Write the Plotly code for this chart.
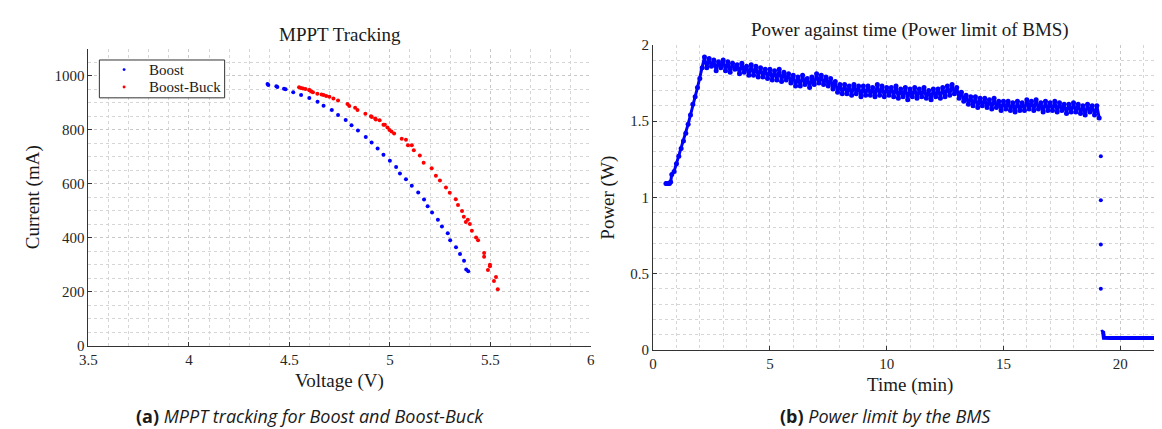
import plotly.graph_objects as go

# ---------------- (a) MPPT tracking ----------------
boost_v = [4.391, 4.435, 4.473, 4.481, 4.519, 4.558, 4.599, 4.640, 4.670, 4.711,
           4.742, 4.780, 4.809, 4.841, 4.880, 4.909, 4.939, 4.968, 5.000, 5.031,
           5.050, 5.080, 5.109, 5.141, 5.170, 5.188, 5.210, 5.239, 5.259, 5.288,
           5.300, 5.329, 5.349, 5.369, 5.380, 5.390, 4.395, 4.440]
boost_i = [969, 961, 952, 950, 939, 929, 918, 904, 889, 873,
           855, 836, 817, 797, 773, 753, 731, 708, 685, 662,
           638, 617, 593, 568, 542, 517, 494, 467, 442, 417,
           391, 365, 340, 315, 283, 276, 966, 958]

buck_v = [4.548, 4.558, 4.568, 4.580, 4.598, 4.601, 4.609, 4.617, 4.639, 4.660,
          4.670, 4.683, 4.699, 4.719, 4.742, 4.789, 4.798, 4.827, 4.839, 4.878,
          4.906, 4.910, 4.927, 4.930, 4.949, 4.968, 4.975, 4.988, 4.998, 5.008,
          5.021, 5.059, 5.080, 5.090, 5.109, 5.119, 5.149, 5.168, 5.208, 5.229,
          5.249, 5.279, 5.298, 5.328, 5.339, 5.359, 5.368, 5.378, 5.388, 5.398,
          5.408, 5.429, 5.439, 5.469, 5.469, 5.498, 5.498, 5.488, 5.528, 5.518,
          5.537]
buck_i = [957, 955, 953, 951, 947, 946, 942, 939, 933, 931,
          929, 925, 922, 916, 908, 895, 888, 882, 873, 859,
          850, 847, 842, 838, 835, 819, 819, 808, 799, 794,
          786, 767, 763, 743, 743, 724, 705, 678, 658, 630,
          612, 586, 567, 543, 522, 499, 478, 459, 467, 451,
          426, 401, 391, 344, 330, 300, 295, 281, 255, 240,
          210]

series_names = ["Boost", "Boost-Buck"]

# ---------------- (b) Power against time ----------------
ramp_t = [0.55, 0.60, 0.65, 0.70, 0.75, 0.80, 0.90, 1.00, 1.10, 1.20,
          1.30, 1.40, 1.50, 1.60, 1.70, 1.80, 1.90, 2.00, 2.10]
ramp_p = [1.09, 1.09, 1.09, 1.09, 1.10, 1.15, 1.17, 1.22, 1.27, 1.32,
          1.37, 1.42, 1.48, 1.54, 1.61, 1.66, 1.72, 1.78, 1.85]

# samples every 0.1 min from t = 2.2 to 19.1 min
band_start, band_step = 2.2, 0.1
band_p = [
    1.92, 1.85, 1.91, 1.86, 1.90, 1.83, 1.89, 1.85, 1.90, 1.83,
    1.89, 1.82, 1.88, 1.84, 1.87, 1.81, 1.88, 1.82, 1.86, 1.80,
    1.87, 1.80, 1.86, 1.79, 1.85, 1.79, 1.84, 1.78, 1.84, 1.77,
    1.83, 1.77, 1.84, 1.76, 1.82, 1.77, 1.81, 1.75, 1.80, 1.73,
    1.79, 1.73, 1.80, 1.74, 1.78, 1.72, 1.79, 1.74, 1.81, 1.75,
    1.80, 1.74, 1.79, 1.73, 1.78, 1.71, 1.76, 1.69, 1.74, 1.68,
    1.74, 1.68, 1.73, 1.67, 1.74, 1.68, 1.73, 1.66, 1.73, 1.67,
    1.73, 1.67, 1.72, 1.66, 1.74, 1.67, 1.73, 1.66, 1.72, 1.67,
    1.72, 1.66, 1.73, 1.65, 1.71, 1.66, 1.72, 1.64, 1.71, 1.66,
    1.72, 1.65, 1.71, 1.66, 1.72, 1.65, 1.70, 1.64, 1.71, 1.66,
    1.71, 1.65, 1.72, 1.66, 1.73, 1.67, 1.74, 1.68, 1.72, 1.65,
    1.69, 1.63, 1.67, 1.61, 1.66, 1.60, 1.66, 1.59, 1.65, 1.60,
    1.65, 1.59, 1.64, 1.58, 1.65, 1.59, 1.63, 1.57, 1.63, 1.58,
    1.63, 1.57, 1.62, 1.56, 1.63, 1.57, 1.62, 1.57, 1.64, 1.58,
    1.63, 1.57, 1.64, 1.58, 1.62, 1.56, 1.63, 1.57, 1.62, 1.57,
    1.63, 1.56, 1.62, 1.57, 1.61, 1.55, 1.61, 1.56, 1.62, 1.56,
    1.61, 1.55, 1.60, 1.54, 1.61, 1.56, 1.60, 1.54, 1.60, 1.52,
]
band_t = [round(band_start + band_step * i, 2) for i in range(len(band_p))]

drop_t = [19.17, 19.17, 19.17, 19.17]
drop_p = [1.27, 0.98, 0.69, 0.40]

tail_t = [19.18, 19.22, 19.27, 19.30, 19.6, 20.0, 20.5, 21.0, 21.5, 22.0]
tail_p = [0.116, 0.118, 0.113, 0.079, 0.078, 0.079, 0.078, 0.079, 0.078, 0.078]

# tick labels
left_xticks = [3.5, 4, 4.5, 5, 5.5, 6]
left_xlabels = ["3.5", "4", "4.5", "5", "5.5", "6"]
left_yticks = [0, 200, 400, 600, 800, 1000]
left_ylabels = ["0", "200", "400", "600", "800", "1000"]
right_xticks = [0, 5, 10, 15, 20]
right_xlabels = ["0", "5", "10", "15", "20"]
right_yticks = [0, 0.5, 1, 1.5, 2]
right_ylabels = ["0", "0.5", "1", "1.5", "2"]

SERIF = "Liberation Serif"
SANS = "Open Sans"
W, H = 1162, 429
BLUE = "#0000ff"
RED = "#ff0000"
AXC = "#333333"

fig = go.Figure()

fig.add_trace(go.Scatter(x=boost_v, y=boost_i, mode="markers", name=series_names[0],
                         marker=dict(color=BLUE, size=4), showlegend=False,
                         xaxis="x", yaxis="y"))
fig.add_trace(go.Scatter(x=buck_v, y=buck_i, mode="markers", name=series_names[1],
                         marker=dict(color=RED, size=4), showlegend=False,
                         xaxis="x", yaxis="y"))

fig.add_trace(go.Scatter(x=ramp_t + band_t, y=ramp_p + band_p, mode="lines+markers",
                         line=dict(color=BLUE, width=3), marker=dict(color=BLUE, size=5),
                         showlegend=False, xaxis="x2", yaxis="y2"))
fig.add_trace(go.Scatter(x=drop_t, y=drop_p, mode="markers",
                         marker=dict(color=BLUE, size=4),
                         showlegend=False, xaxis="x2", yaxis="y2"))
fig.add_trace(go.Scatter(x=tail_t, y=tail_p, mode="lines",
                         line=dict(color=BLUE, width=4),
                         showlegend=False, xaxis="x2", yaxis="y2"))


def px_x(p):
    return p / W


def px_y(p):
    return 1 - p / H


common = dict(
    showline=True, linecolor=AXC, linewidth=1, mirror=False,
    ticks="inside", ticklen=4, tickcolor=AXC, tickwidth=1,
    showgrid=True, gridcolor="#c8c8c8", gridwidth=1, griddash="dot",
    zeroline=False,
    tickfont=dict(family=SERIF, size=15, color="#262626"),
)

fig.update_layout(
    width=W, height=H, autosize=False,
    margin=dict(l=0, r=0, t=0, b=0),
    paper_bgcolor="white", plot_bgcolor="white",
    showlegend=False,
    xaxis=dict(domain=[px_x(72.3), px_x(580.3)], range=[3.5, 6], anchor="y",
               tickvals=left_xticks, ticktext=left_xlabels,
               minor=dict(dtick=0.1, showgrid=True, gridcolor="#d6d6d6", griddash="dot"),
               **common),
    yaxis=dict(domain=[px_y(342.7), px_y(34)], range=[0, 1100], anchor="x",
               tickvals=left_yticks, ticktext=left_ylabels,
               minor=dict(dtick=50, showgrid=True, gridcolor="#d6d6d6", griddash="dot"),
               **common),
    xaxis2=dict(domain=[px_x(643.3), 1.0], range=[0, 21.96], anchor="y2",
                tickvals=right_xticks, ticktext=right_xlabels,
                minor=dict(dtick=1, showgrid=True, gridcolor="#d6d6d6", griddash="dot"),
                **common),
    yaxis2=dict(domain=[px_y(346.7), px_y(30)], range=[0, 2], anchor="x2",
                tickvals=right_yticks, ticktext=right_ylabels,
                minor=dict(dtick=0.1, showgrid=True, gridcolor="#d6d6d6", griddash="dot"),
                **common),
)

# ---- legend box for panel (a) ----
fig.add_shape(type="rect", xref="paper", yref="paper",
              x0=px_x(83.3), x1=px_x(210), y0=px_y(85), y1=px_y(45.7),
              line=dict(color=AXC, width=1), fillcolor="white", layer="above")
for name, col, ycen in [(series_names[0], BLUE, 55.7), (series_names[1], RED, 73.8)]:
    fig.add_shape(type="circle", xref="paper", yref="paper",
                  x0=px_x(106.8), x1=px_x(109.8), y0=px_y(ycen + 1.5), y1=px_y(ycen - 1.5),
                  line=dict(color=col, width=0), fillcolor=col, layer="above")
    fig.add_annotation(text=name, x=px_x(131.5), y=px_y(ycen), xref="paper", yref="paper",
                       xanchor="left", yanchor="middle", showarrow=False,
                       font=dict(family=SERIF, size=15, color="#1a1a1a"))

ann = [
    dict(text="MPPT Tracking", x=px_x(326.3), y=px_y(19), size=19, angle=0, fam=SERIF),
    dict(text="Power against time (Power limit of BMS)", x=px_x(902.6), y=px_y(15), size=19, angle=0, fam=SERIF),
    dict(text="Voltage (V)", x=px_x(326.3), y=px_y(379), size=19, angle=0, fam=SERIF),
    dict(text="Time (min)", x=px_x(902.6), y=px_y(383), size=19, angle=0, fam=SERIF),
    dict(text="Current (mA)", x=px_x(17), y=px_y(188.4), size=19, angle=-90, fam=SERIF),
    dict(text="Power (W)", x=px_x(598), y=px_y(188.4), size=19, angle=-90, fam=SERIF),
    dict(text="<b>(a)</b> <i>MPPT tracking for Boost and Boost-Buck</i>", x=px_x(296), y=px_y(415),
         size=18, angle=0, fam=SANS),
    dict(text="<b>(b)</b> <i>Power limit by the BMS</i>", x=px_x(878.6), y=px_y(416),
         size=18, angle=0, fam=SANS),
]
for a in ann:
    fig.add_annotation(text=a["text"], x=a["x"], y=a["y"], xref="paper", yref="paper",
                       xanchor="center", yanchor="middle", showarrow=False,
                       textangle=a["angle"],
                       font=dict(family=a["fam"], size=a["size"], color="#1a1a1a"))

fig.write_html("out.html")
